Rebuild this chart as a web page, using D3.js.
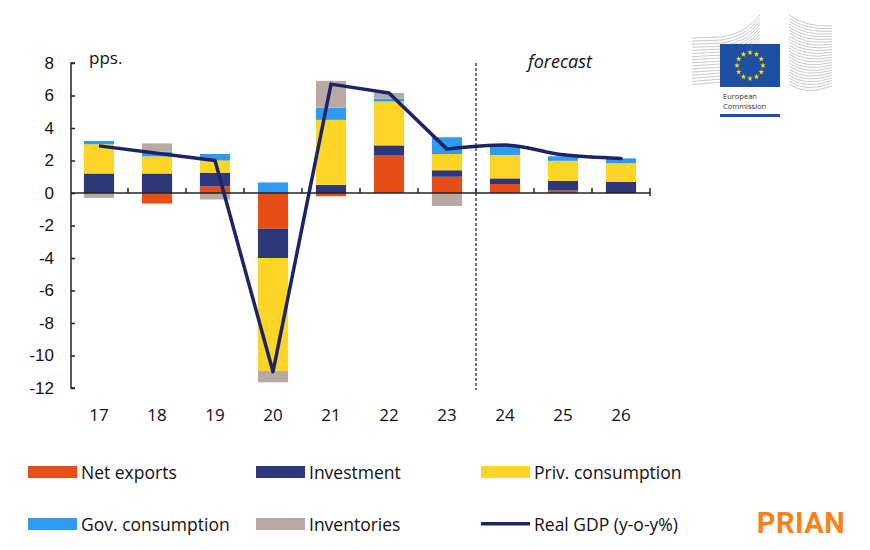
<!DOCTYPE html>
<html>
<head>
<meta charset="utf-8">
<script src="https://cdn.jsdelivr.net/npm/d3@7"></script>
<style>
  body { margin: 0; background: #fff; }
  svg { font-family: "Open Sans", "Noto Sans", sans-serif; }
</style>
</head>
<body>
<script>
// data
const years = ["17", "18", "19", "20", "21", "22", "23", "24", "25", "26"];
const netExports = [0.0, -0.65, 0.4, -2.2, -0.2, 2.3, 1.0, 0.55, 0.15, 0.0];
const investment = [1.2, 1.2, 0.85, -1.8, 0.5, 0.63, 0.4, 0.35, 0.6, 0.68];
const privCons = [1.8, 1.05, 0.75, -6.95, 4.0, 2.7, 1.0, 1.44, 1.23, 1.15];
const govCons = [0.2, 0.3, 0.4, 0.65, 0.75, 0.18, 1.03, 0.55, 0.28, 0.3];
const inventories = [-0.3, 0.5, -0.4, -0.7, 1.65, 0.35, -0.8, 0.0, 0.0, 0.0];
const realGdp = [2.9, 2.45, 2.0, -11.0, 6.7, 6.15, 2.7, 2.95, 2.35, 2.13];
const yTicks = [-12, -10, -8, -6, -4, -2, 0, 2, 4, 6, 8];

const series = [
  { key: "net", name: "Net exports", values: netExports, color: "#e64e16" },
  { key: "inv", name: "Investment", values: investment, color: "#2e3878" },
  { key: "priv", name: "Priv. consumption", values: privCons, color: "#fdd526" },
  { key: "gov", name: "Gov. consumption", values: govCons, color: "#2f9bf0" },
  { key: "stock", name: "Inventories", values: inventories, color: "#b8aaa2" }
];
const lineColor = "#1c2466";

const W = 870, H = 550;
const svg = d3.select("body").append("svg")
  .attr("width", W).attr("height", H);

const x = d3.scaleBand().domain(years).range([70, 650])
  .paddingInner(0.48).paddingOuter(0.24);
const y = d3.scaleLinear().domain([-12, 8]).range([388, 63]);

// stacked table
const table = years.map((yr, i) => {
  const row = { year: yr };
  series.forEach(s => row[s.key] = s.values[i]);
  return row;
});
const stack = d3.stack().keys(series.map(s => s.key))
  .offset(d3.stackOffsetDiverging);
const layers = stack(table);

svg.append("g").selectAll("g")
  .data(layers)
  .join("g")
  .attr("fill", (d, i) => series[i].color)
  .selectAll("rect")
  .data(d => d)
  .join("rect")
  .attr("x", d => x(d.data.year))
  .attr("width", x.bandwidth())
  .attr("y", d => y(Math.max(d[0], d[1])))
  .attr("height", d => Math.abs(y(d[0]) - y(d[1])));

// y axis (ticks point inwards)
const yAxis = svg.append("g")
  .attr("transform", "translate(71,0)")
  .call(d3.axisLeft(y).tickValues(yTicks).tickSizeInner(-4).tickSizeOuter(0)
    .tickPadding(17).tickFormat(d => d));
yAxis.select(".domain").attr("stroke", "#222").attr("stroke-width", 1.5)
  .attr("d", `M4,${y(8)}H0V${y(-12)}H4`);
yAxis.selectAll(".tick line").attr("stroke", "#222").attr("stroke-width", 1.5);
yAxis.selectAll(".tick text").attr("font-size", 17).attr("fill", "#111");

// x axis at zero
const step = x.step();
const bounds = years.map(yr => x(yr) + x.bandwidth() + (step - x.bandwidth()) / 2);
const xg = svg.append("g");
xg.append("line").attr("x1", 71).attr("x2", bounds[bounds.length - 1])
  .attr("y1", y(0)).attr("y2", y(0))
  .attr("stroke", "#222").attr("stroke-width", 1.5);
xg.selectAll("line.tk").data(bounds).join("line").attr("class", "tk")
  .attr("x1", d => d).attr("x2", d => d)
  .attr("y1", (d, i) => i === bounds.length - 1 ? y(0) + 3 : y(0))
  .attr("y2", y(0) - 5)
  .attr("stroke", "#222").attr("stroke-width", 1.5);

svg.append("g").selectAll("text")
  .data(years).join("text")
  .attr("x", d => x(d) + x.bandwidth() / 2)
  .attr("y", 421)
  .attr("text-anchor", "middle")
  .attr("font-size", 17)
  .attr("fill", "#111")
  .text(d => d);

// forecast divider
svg.append("line")
  .attr("x1", bounds[6]).attr("x2", bounds[6])
  .attr("y1", y(8)).attr("y2", 390)
  .attr("stroke", "#444").attr("stroke-width", 1.5)
  .attr("stroke-dasharray", "3,2");

svg.append("text").attr("x", 560).attr("y", 68)
  .attr("text-anchor", "middle").attr("font-size", 18)
  .attr("font-style", "italic").attr("fill", "#111").text("forecast");
svg.append("text").attr("x", 89).attr("y", 64)
  .attr("font-size", 17).attr("fill", "#111").text("pps.");

// GDP line
const pts = years.map((yr, i) => [x(yr) + x.bandwidth() / 2, y(realGdp[i])]);
svg.append("path")
  .attr("d", d3.line().curve(d3.curveLinear)(pts.slice(0, 7)))
  .attr("fill", "none").attr("stroke", lineColor).attr("stroke-width", 3.5)
  .attr("stroke-linejoin", "round");
svg.append("path")
  .attr("d", d3.line().curve(d3.curveMonotoneX)(pts.slice(6)))
  .attr("fill", "none").attr("stroke", lineColor).attr("stroke-width", 3.5)
  .attr("stroke-linecap", "round");

// legend
const legendItems = [
  { name: "Net exports", color: series[0].color, col: 0, row: 0 },
  { name: "Investment", color: series[1].color, col: 1, row: 0 },
  { name: "Priv. consumption", color: series[2].color, col: 2, row: 0 },
  { name: "Gov. consumption", color: series[3].color, col: 0, row: 1 },
  { name: "Inventories", color: series[4].color, col: 1, row: 1 },
  { name: "Real GDP (y-o-y%)", color: lineColor, col: 2, row: 1, line: true }
];
const colX = [28, 256, 481];
const rowY = [472, 524];
const lg = svg.append("g").selectAll("g").data(legendItems).join("g")
  .attr("transform", d => `translate(${colX[d.col]},${rowY[d.row]})`);
lg.append("rect")
  .attr("x", 0).attr("width", 49)
  .attr("y", d => d.line ? -2 : -6).attr("height", d => d.line ? 3.5 : 12)
  .attr("fill", d => d.color);
lg.append("text").attr("x", 53).attr("y", 6.5)
  .attr("font-size", 17.5).attr("fill", "#111").text(d => d.name);

svg.append("text").attr("x", 801).attr("y", 533)
  .attr("text-anchor", "middle").attr("font-size", 29)
  .attr("font-weight", "bold").attr("fill", "#f7821b")
  .attr("letter-spacing", 0.5)
  .attr("font-family", "Roboto, sans-serif").text("PRIAN");

// European Commission logo
const logo = svg.append("g");
const grey = "#bdbdbd";
for (let i = 0; i < 16; i++) {
  const yy = 38 + i * 3.1;
  logo.append("path")
    .attr("d", `M692,${yy} L722,${yy - 1 - i * 0.1} Q745,${yy - 4} ${760},${15 + i * 3.2}`)
    .attr("fill", "none").attr("stroke", grey).attr("stroke-width", 0.8);
}
for (let i = 0; i < 24; i++) {
  const yy = 15 + i * 3.0;
  const ye = Math.max(yy, 50 + (i - 10) * 2.6);
  logo.append("path")
    .attr("d", `M789,${yy} Q805,${yy + 12} 832,${Math.min(87, ye + 2)}`)
    .attr("fill", "none").attr("stroke", grey).attr("stroke-width", 0.8);
}
logo.append("rect").attr("x", 720).attr("y", 44).attr("width", 60).attr("height", 43)
  .attr("fill", "#1f4fa3");
const star = d3.symbol().type(d3.symbolStar).size(10);
d3.range(12).forEach(k => {
  const a = k * Math.PI / 6;
  logo.append("path").attr("d", star())
    .attr("transform", `translate(${750 + 13 * Math.sin(a)},${65.5 - 13 * Math.cos(a)})`)
    .attr("fill", "#ffdd00");
});
logo.append("rect").attr("x", 720).attr("y", 87).attr("width", 60).attr("height", 1)
  .attr("fill", "#fff");
logo.append("text").attr("x", 723).attr("y", 99).attr("font-size", 7.5)
  .attr("fill", "#333").text("European");
logo.append("text").attr("x", 723).attr("y", 109).attr("font-size", 7.5)
  .attr("fill", "#333").text("Commission");
logo.append("rect").attr("x", 720).attr("y", 114).attr("width", 60).attr("height", 3)
  .attr("fill", "#1f4fa3");
</script>
</body>
</html>
